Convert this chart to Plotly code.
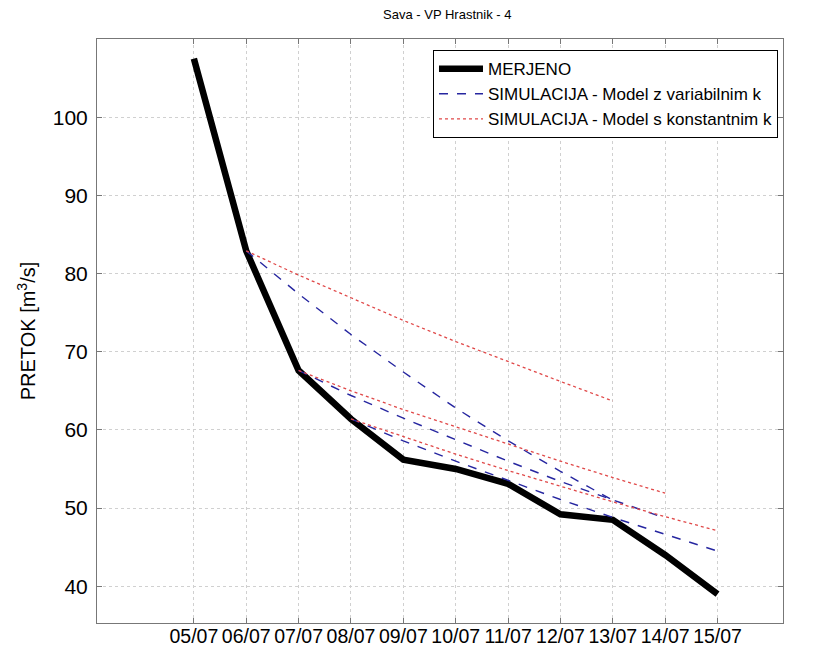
import plotly.graph_objects as go

# ---- data ----
dates = ["05/07", "06/07", "07/07", "08/07", "09/07", "10/07",
         "11/07", "12/07", "13/07", "14/07", "15/07"]
merjeno = [107.5, 82.9, 67.6, 61.4, 56.2, 55.0, 53.1, 49.2, 48.5, 44.0, 39.0]

# simulations: start index into dates, then values
var_start_0607 = 1
var_0607 = [82.9, 77.4, 72.2, 67.4, 62.8, 58.6, 54.7, 51.0]
const_0607 = [82.9, 79.8, 76.9, 74.0, 71.3, 68.7, 66.2, 63.7]

var_start_0707 = 2
var_0707 = [67.6, 64.4, 61.5, 58.7, 56.0, 53.4, 51.0, 48.7]
const_0707 = [67.6, 65.0, 62.6, 60.4, 58.1, 56.0, 53.9, 51.9]

var_start_0807 = 3
var_0807 = [61.4, 58.6, 56.0, 53.5, 51.1, 48.8, 46.6, 44.5]
const_0807 = [61.4, 59.1, 56.9, 54.8, 52.8, 50.8, 48.9, 47.1]

yticks = [40, 50, 60, 70, 80, 90, 100]

FONT = "Arial, Liberation Sans, Helvetica, sans-serif"
BLUE = "#2626a0"
RED = "#e04848"

fig = go.Figure()
fig.add_trace(go.Scatter(
    x=dates, y=merjeno, mode="lines", name="MERJENO",
    line=dict(color="black", width=6.5), legendgroup="m"))

sims = [
    (var_start_0607, var_0607, const_0607),
    (var_start_0707, var_0707, const_0707),
    (var_start_0807, var_0807, const_0807),
]
for i, (s, v, c) in enumerate(sims):
    xs = dates[s:s + len(v)]
    fig.add_trace(go.Scatter(
        x=xs, y=v, mode="lines",
        name="SIMULACIJA - Model z variabilnim k",
        line=dict(color=BLUE, width=1.4, dash="dash"),
        legendgroup="v", showlegend=(i == 0)))
for i, (s, v, c) in enumerate(sims):
    xs = dates[s:s + len(c)]
    fig.add_trace(go.Scatter(
        x=xs, y=c, mode="lines",
        name="SIMULACIJA - Model s konstantnim k",
        line=dict(color=RED, width=1.3, dash="dot"),
        legendgroup="c", showlegend=(i == 0)))

axis_common = dict(
    showline=True, linecolor="#777777", linewidth=1, mirror="ticks",
    ticks="inside", ticklen=5, tickcolor="#777777",
    showgrid=True, gridcolor="#d0d0d0", griddash="dot", gridwidth=1,
    zeroline=False, automargin=False,
)

fig.update_xaxes(
    type="category", categoryorder="array", categoryarray=dates,
    range=[-1.85, 11.25], ticklabelstandoff=-4,
    tickfont=dict(family=FONT, size=19.5, color="black"), **axis_common)
fig.update_yaxes(
    range=[35.3, 110], tickvals=yticks, ticklabelstandoff=4,
    tickfont=dict(family=FONT, size=21, color="black"),
    title=dict(text="PRETOK [m<sup>3</sup>/s]",
               font=dict(family=FONT, size=20, color="black"), standoff=11),
    **axis_common)

# page body has an 8px margin, so the figure is 8px smaller than the window
fig.update_layout(
    width=806, height=641,
    margin=dict(l=89, r=31, t=31, b=26),
    paper_bgcolor="white", plot_bgcolor="white",
    title=dict(text="Sava - VP Hrastnik - 4", x=0.545, xanchor="center",
               y=0.99, yanchor="middle",
               font=dict(family=FONT, size=13, color="black")),
    legend=dict(x=0.9927, xanchor="right", y=0.981, yanchor="top",
                bordercolor="black", borderwidth=1, bgcolor="white",
                font=dict(family=FONT, size=17, color="black"),
                tracegroupgap=0, itemwidth=44),
    showlegend=True,
)

fig.write_html("out.html")
